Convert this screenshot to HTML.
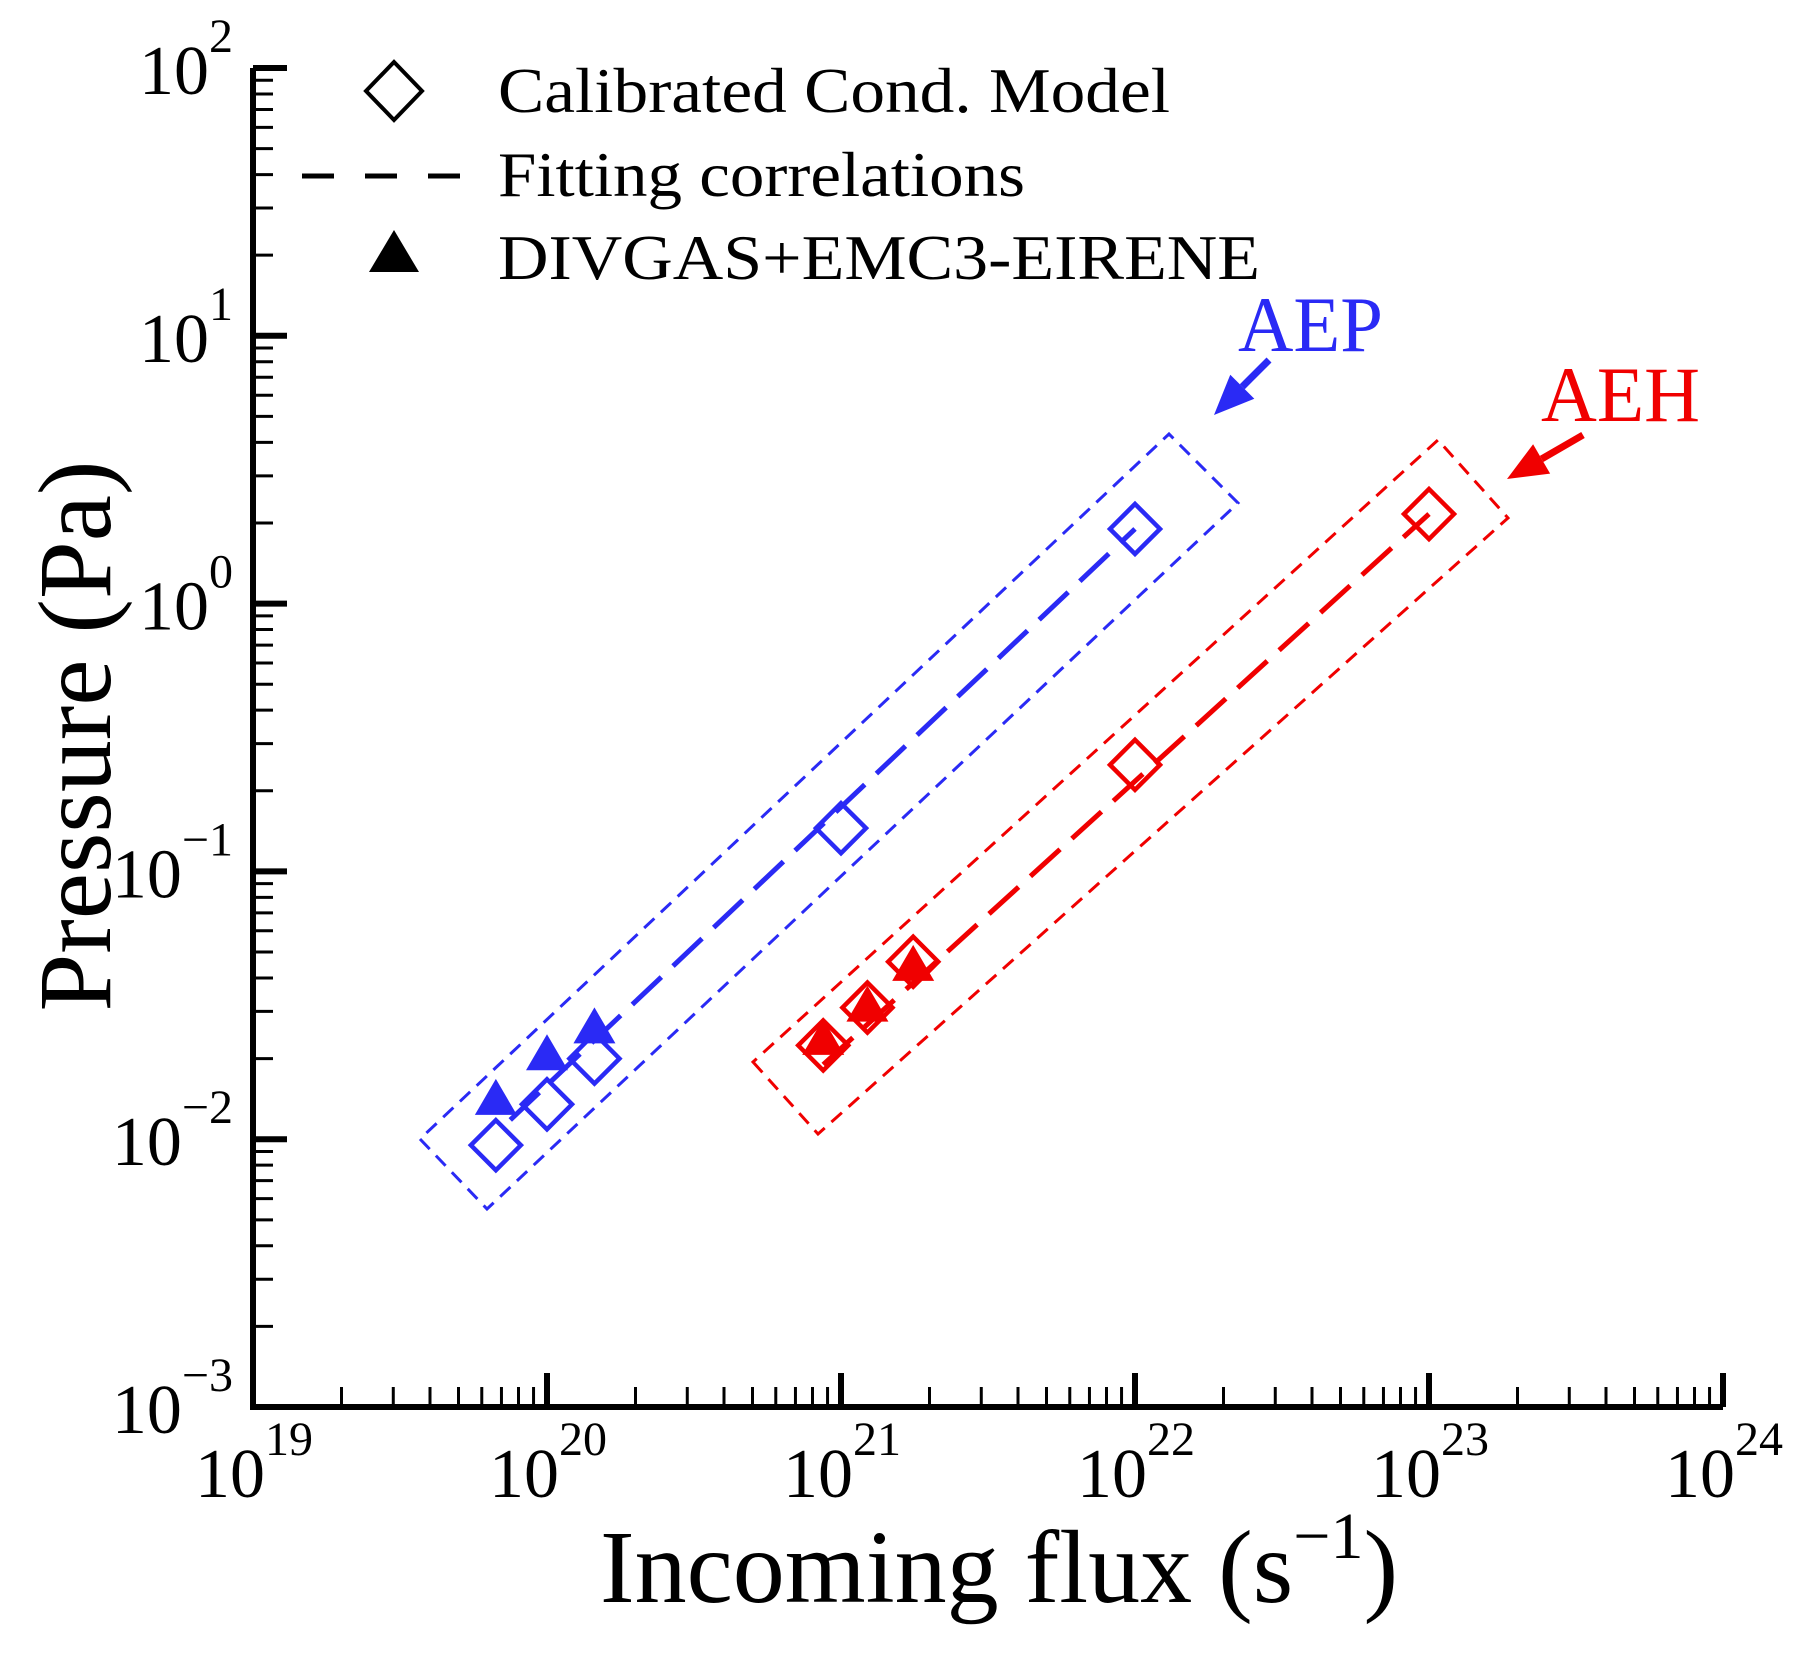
<!DOCTYPE html>
<html><head><meta charset="utf-8"><style>html,body{margin:0;padding:0;background:#fff}svg{display:block}</style></head>
<body>
<svg id="chart" width="1800" height="1656" viewBox="0 0 1800 1656" xmlns="http://www.w3.org/2000/svg" font-family="'Liberation Serif', serif">
<g id="axes"></g>
<g id="marks"></g>
<g id="legend">
  <path d="M394 62 L422 91 L394 120 L366 91 Z" fill="none" stroke="#000" stroke-width="4"/>
  <text x="498" y="112" font-size="64" textLength="672" lengthAdjust="spacingAndGlyphs">Calibrated Cond. Model</text>
  <line x1="302" y1="176" x2="460" y2="176" stroke="#000" stroke-width="5" stroke-dasharray="32 31"/>
  <text x="498" y="196" font-size="64" textLength="527" lengthAdjust="spacingAndGlyphs">Fitting correlations</text>
  <path d="M394 230 L419 272 L369 272 Z" fill="#000"/>
  <text x="498" y="279" font-size="64" textLength="762" lengthAdjust="spacingAndGlyphs">DIVGAS+EMC3-EIRENE</text>
</g>
<text transform="translate(110 736) rotate(-90)" text-anchor="middle" font-size="104" textLength="551" lengthAdjust="spacingAndGlyphs">Pressure (Pa)</text>
<text x="600" y="1602" font-size="104">Incoming flux (s<tspan font-size="66" dy="-44">−1</tspan><tspan dy="44">)</tspan></text>
</svg>
<script>
const xTickExps = [19, 20, 21, 22, 23, 24];
const yTickExps = [-3, -2, -1, 0, 1, 2];
const aepDiamondX = [6.7e19, 1.0e20, 1.45e20, 1.0e21, 1.0e22];
const aepDiamondY = [0.0095, 0.0135, 0.020, 0.145, 1.9];
const aepTriX = [6.7e19, 1.0e20, 1.45e20];
const aepTriY = [0.0139, 0.0204, 0.0257];
const aehDiamondX = [8.7e20, 1.23e21, 1.76e21, 1.0e22, 1.0e23];
const aehDiamondY = [0.0224, 0.031, 0.046, 0.25, 2.16];
const aehTriX = [8.7e20, 1.23e21, 1.76e21];
const aehTriY = [0.0233, 0.031, 0.044];
const aepFitX = [7.5e19, 1.0e22];
const aepFitY = [0.0118, 1.9];
const aehFitX = [8.7e20, 1.0e23];
const aehFitY = [0.019, 2.16];

const NS = 'http://www.w3.org/2000/svg';
const X0 = 253, XD = 294, Y0 = 1407, YD = 267.8;
function sx(v){ return X0 + XD*(Math.log10(v) - 19); }
function sy(v){ return Y0 - YD*(Math.log10(v) + 3); }
function mk(tag, attrs, parent){ const e = document.createElementNS(NS, tag); for (const k in attrs) e.setAttribute(k, attrs[k]); parent.appendChild(e); return e; }
const axes = document.getElementById('axes');
const marks = document.getElementById('marks');

for (let d = 19; d < 24; d++) {
  for (let m = 2; m <= 9; m++) {
    const x = sx(m * Math.pow(10, d));
    const t = mk('line', {x1:x, y1:Y0, x2:x, y2:Y0-20, stroke:'#000', 'stroke-width':3}, axes);
    
    
  }
}
for (let d = -3; d < 2; d++) {
  for (let m = 2; m <= 9; m++) {
    const y = sy(m * Math.pow(10, d));
    const t = mk('line', {x1:X0, y1:y, x2:X0+20, y2:y, stroke:'#000', 'stroke-width':3}, axes);
    
    
  }
}
xTickExps.forEach(e => {
  const x = sx(Math.pow(10, e));
  const t = mk('line', {x1:x, y1:Y0, x2:x, y2:Y0-34, stroke:'#000', 'stroke-width':6}, axes);
  
  
  const lab = mk('text', {x:x+60, y:Y0+90, 'text-anchor':'end', 'font-size':70}, axes);
  
  
  lab.innerHTML = '10<tspan font-size="48" dy="-42">' + e + '</tspan>';
});
yTickExps.forEach(e => {
  const y = sy(Math.pow(10, e));
  const t = mk('line', {x1:X0, y1:y, x2:X0+34, y2:y, stroke:'#000', 'stroke-width':6}, axes);
  
  
  const lab = mk('text', {x:X0-20, y:y+26, 'text-anchor':'end', 'font-size':70}, axes);
  
  
  lab.innerHTML = '10<tspan font-size="48" dy="-42">' + String(e).replace('-', '−') + '</tspan>';
});
const ax = mk('path', {d:`M${X0} ${sy(100)} L${X0} ${Y0} L${sx(1e24)} ${Y0}`, fill:'none', stroke:'#000', 'stroke-width':6}, axes);



function box(pts, color, name){
  const p = mk('polygon', {points: pts.map(q=>q.join(',')).join(' '), fill:'none', stroke:color, 'stroke-width':3, 'stroke-dasharray':'14 9'}, marks);
  
  
}
box([[420,1139],[487,1209],[1238,503],[1169,434]], '#2a2af5', 'aep-group-box');
box([[753,1062],[818,1134],[1508,518],[1438,440]], '#f00000', 'aeh-group-box');

function fit(xs, ys, color, name){
  const l = mk('line', {x1:sx(xs[0]), y1:sy(ys[0]), x2:sx(xs[1]), y2:sy(ys[1]), stroke:color, 'stroke-width':5, 'stroke-dasharray':'40 16'}, marks);
  
  
}
fit(aepFitX, aepFitY, '#2a2af5', 'aep-fit-line');
fit(aehFitX, aehFitY, '#f00000', 'aeh-fit-line');

function diamonds(xs, ys, color, name){
  xs.forEach((v,i) => {
    const x = sx(v), y = sy(ys[i]), r = 25;
    const d = mk('path', {d:`M${x} ${y-r} L${x+r} ${y} L${x} ${y+r} L${x-r} ${y} Z`, fill:'none', stroke:color, 'stroke-width':4.5}, marks);
    
    
  });
}
function tris(xs, ys, color, name){
  xs.forEach((v,i) => {
    const x = sx(v), y = sy(ys[i]);
    const t = mk('path', {d:`M${x} ${y-22} L${x+21} ${y+14} L${x-21} ${y+14} Z`, fill:color}, marks);
    
    
  });
}
diamonds(aepDiamondX, aepDiamondY, '#2a2af5', 'aep-model-point');
tris(aepTriX, aepTriY, '#2a2af5', 'aep-divgas-point');
diamonds(aehDiamondX, aehDiamondY, '#f00000', 'aeh-model-point');
tris(aehTriX, aehTriY, '#f00000', 'aeh-divgas-point');

function arrow(x1,y1,x2,y2,color,name){
  const g = mk('g', {}, marks);
  
  
  const ang = Math.atan2(y2-y1, x2-x1), L = 40, W = 17;
  const bx = x2 - L*Math.cos(ang), by = y2 - L*Math.sin(ang);
  mk('line', {x1:x1, y1:y1, x2:bx, y2:by, stroke:color, 'stroke-width':7}, g);
  const px = -Math.sin(ang)*W, py = Math.cos(ang)*W;
  mk('path', {d:`M${x2} ${y2} L${bx+px} ${by+py} L${bx-px} ${by-py} Z`, fill:color}, g);
}
arrow(1269,360,1214,415,'#2a2af5','aep-arrow');
arrow(1583,435,1507,479,'#f00000','aeh-arrow');
const t1 = mk('text', {x:1238, y:351, 'font-size':78, fill:'#2a2af5', textLength:145, lengthAdjust:'spacingAndGlyphs'}, marks);


t1.textContent = 'AEP';
const t2 = mk('text', {x:1541, y:421, 'font-size':78, fill:'#f00000', textLength:159, lengthAdjust:'spacingAndGlyphs'}, marks);


t2.textContent = 'AEH';
</script>
</body></html>
